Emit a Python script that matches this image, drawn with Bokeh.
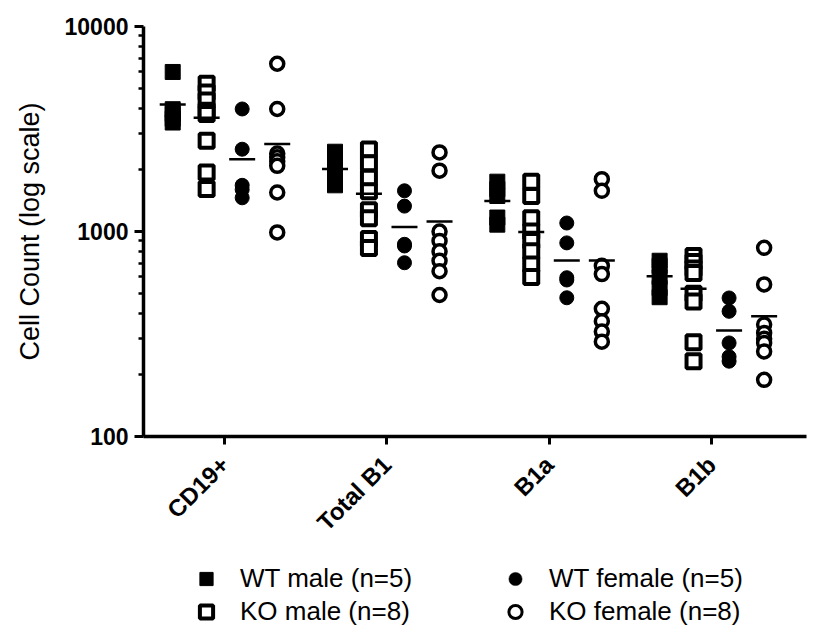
import math
from bokeh.plotting import figure
from bokeh.layouts import column
from bokeh.models import (Range1d, FixedTicker, PrintfTickFormatter, Legend,
                          LegendItem, ColumnDataSource)
from bokeh.embed import file_html
from bokeh.resources import INLINE

# ---------------- data ----------------
categories = ["CD19+", "Total B1", "B1a", "B1b"]
series_labels = ["WT male (n=5)", "KO male (n=8)", "WT female (n=5)", "KO female (n=8)"]

wt_male = [
    [6000, 3950, 3750, 3550, 3400],
    [2450, 2150, 2000, 1850, 1680],
    [1750, 1610, 1490, 1170, 1080],
    [720, 680, 600, 530, 478],
]
ko_male = [
    [5250, 4770, 4350, 3880, 3740, 2770, 1940, 1610],
    [2510, 2150, 1830, 1570, 1270, 1160, 920, 830],
    [1750, 1490, 1160, 1000, 900, 800, 690, 600],
    [760, 710, 660, 627, 497, 455, 288, 233],
]
wt_female = [
    [3960, 2520, 1680, 1600, 1460],
    [1580, 1330, 866, 850, 704],
    [1100, 880, 595, 580, 475],
    [474, 408, 286, 245, 233],
]
ko_female = [
    [6580, 3960, 2400, 2300, 2200, 2090, 1550, 990],
    [2430, 1980, 1000, 900, 800, 720, 640, 490],
    [1800, 1580, 680, 620, 420, 365, 325, 290],
    [833, 552, 352, 320, 300, 286, 260, 189],
]

wt_male_mean = [4160, 2015, 1410, 605]
ko_male_mean = [3590, 1530, 995, 525]
wt_female_mean = [2250, 1052, 723, 329]
ko_female_mean = [2670, 1120, 723, 386]

y_ticks = [100, 1000, 10000]
y_minor_ticks = [m * d for d in (100, 1000) for m in range(2, 10)]

# ---------------- layout / style ----------------
offsets = [-0.320, -0.111, 0.108, 0.324]
FONT = "Liberation Sans"
styles = [
    dict(marker="square", size=15, fill_color="black", line_color="black", line_width=1),
    dict(marker="square", size=14, fill_color="white", line_color="black", line_width=4),
    dict(marker="circle", size=14, fill_color="black", line_color="black", line_width=1),
    dict(marker="circle", size=13, fill_color="white", line_color="black", line_width=3.5),
]
legend_styles = [
    dict(marker="square", fill_color="black", line_color="black", line_width=1),
    dict(marker="square", fill_color="white", line_color="black", line_width=4),
    dict(marker="circle", fill_color="black", line_color="black", line_width=0.5),
    dict(marker="circle", fill_color="white", line_color="black", line_width=3),
]

p = figure(width=810, height=552, output_backend="svg", toolbar_location=None,
           x_range=Range1d(-0.5, 3.585), y_range=Range1d(100, 10000),
           y_axis_type="log",
           min_border_left=143, min_border_right=4,
           min_border_top=26, min_border_bottom=116)
p.outline_line_color = None
p.xgrid.grid_line_color = None
p.ygrid.grid_line_color = None
p.background_fill_color = "white"


def make_source(vals, k):
    xs, ys = [], []
    for ci, arr in enumerate(vals):
        for v in arr:
            xs.append(ci + offsets[k])
            ys.append(v)
    return ColumnDataSource(dict(x=xs, y=ys))


def make_mean_source(means, k):
    return ColumnDataSource(dict(x=[ci + offsets[k] for ci in range(len(means))], y=means))


all_series = [wt_male, ko_male, wt_female, ko_female]
sources = [make_source(vals, k) for k, vals in enumerate(all_series)]
for k, src in enumerate(sources):
    p.scatter("x", "y", source=src, **styles[k])

for k, means in enumerate([wt_male_mean, ko_male_mean, wt_female_mean, ko_female_mean]):
    p.scatter("x", "y", source=make_mean_source(means, k), marker="dash", size=26,
              line_color="black", line_width=2.5)

# ---------------- axes ----------------
xa = p.xaxis[0]
xa.ticker = FixedTicker(ticks=list(range(len(categories))))
xa.major_label_overrides = {i: c for i, c in enumerate(categories)}
xa.major_label_orientation = math.pi / 4
xa.axis_line_width = 3.5
xa.axis_line_color = "black"
xa.major_tick_line_width = 3
xa.major_tick_line_color = "black"
xa.major_tick_out = 8
xa.major_tick_in = 0
xa.minor_tick_out = 0
xa.minor_tick_in = 0
xa.major_label_text_font = FONT
xa.major_label_text_font_style = "bold"
xa.major_label_text_font_size = "24px"
xa.major_label_text_color = "black"
xa.major_label_standoff = 16

ya = p.yaxis[0]
ya.ticker = FixedTicker(ticks=y_ticks, minor_ticks=y_minor_ticks)
ya.formatter = PrintfTickFormatter(format="%d")
ya.axis_line_width = 3.5
ya.axis_line_color = "black"
ya.major_tick_line_width = 3
ya.major_tick_line_color = "black"
ya.major_tick_out = 9
ya.major_tick_in = 0
ya.minor_tick_line_width = 2.5
ya.minor_tick_line_color = "black"
ya.minor_tick_out = 5
ya.minor_tick_in = 0
ya.major_label_text_font = FONT
ya.major_label_text_font_style = "bold"
ya.major_label_text_font_size = "23px"
ya.major_label_text_color = "black"
ya.major_label_standoff = 6
ya.axis_label = "Cell Count (log scale)"
ya.axis_label_text_font = FONT
ya.axis_label_text_font_style = "normal"
ya.axis_label_text_font_size = "27px"
ya.axis_label_text_color = "black"
ya.axis_label_standoff = 17

# ---------------- legend (own strip below the chart) ----------------
lf = figure(width=810, height=90, output_backend="svg", toolbar_location=None,
            x_range=Range1d(0, 1), y_range=Range1d(0, 1),
            x_axis_location=None, y_axis_location=None,
            min_border_left=0, min_border_right=0, min_border_top=0, min_border_bottom=0)
lf.outline_line_color = None
lf.grid.visible = False
lf.background_fill_color = "white"

# same data sources; every point lies far outside this strip's ranges
legend_renderers = [lf.scatter("x", "y", source=src, **legend_styles[k])
                    for k, src in enumerate(sources)]

legend = Legend(
    items=[
        LegendItem(label=series_labels[0], renderers=[legend_renderers[0]]),
        LegendItem(label=series_labels[2], renderers=[legend_renderers[2]]),
        LegendItem(label=series_labels[1], renderers=[legend_renderers[1]]),
        LegendItem(label=series_labels[3], renderers=[legend_renderers[3]]),
    ],
    orientation="horizontal", ncols=2,
    location=(43, 14),
    glyph_width=40, glyph_height=33,
    label_standoff=14, label_width=255, spacing=0,
    padding=2, margin=0,
    border_line_color=None, background_fill_alpha=0,
    label_text_font=FONT, label_text_font_size="26px", label_text_color="black",
)
lf.add_layout(legend)

layout = column(p, lf, spacing=0)
open("out.html", "w").write(file_html(layout, INLINE))
